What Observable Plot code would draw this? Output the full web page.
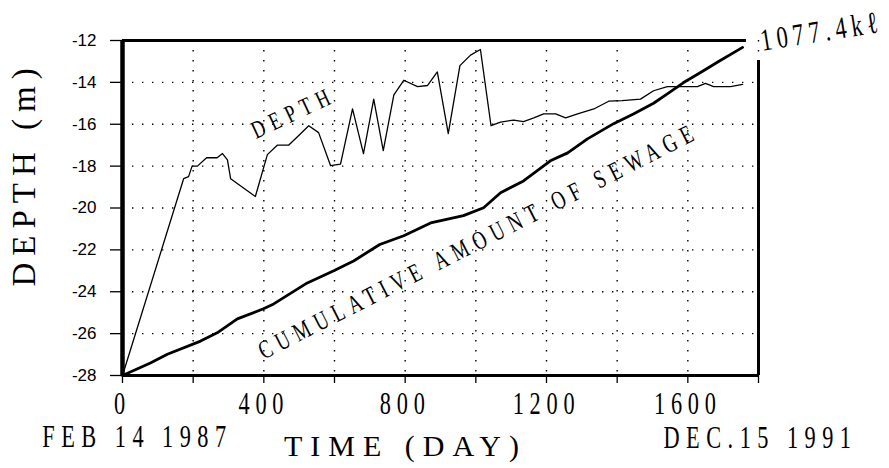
<!DOCTYPE html>
<html>
<head>
<meta charset="utf-8">
<script src="https://cdn.jsdelivr.net/npm/d3@7"></script>
<script src="https://cdn.jsdelivr.net/npm/@observablehq/plot@0.6"></script>
<style>
  html, body { margin: 0; padding: 0; background: #fff; }
  #chart { width: 889px; height: 468px; }
</style>
</head>
<body>
<div id="chart"></div>
<script>
// ---- Data ----
const depthDay = [0, 173, 187, 197, 212, 238, 268, 283, 297, 306, 376, 410, 438, 470, 504, 527, 555, 589, 617, 651, 682, 711, 738, 768, 796, 835, 863, 891, 922, 955, 985, 1013, 1043, 1070, 1107, 1135, 1164, 1192, 1226, 1254, 1288, 1334, 1376, 1414, 1466, 1503, 1542, 1588, 1627, 1650, 1673, 1721, 1755];
const depthM = [-28, -18.6, -18.5, -18.0, -18.0, -17.6, -17.6, -17.4, -17.7, -18.6, -19.45, -17.45, -17.0, -17.0, -16.45, -16.07, -16.4, -17.98, -17.9, -15.27, -17.4, -14.8, -17.26, -14.6, -13.9, -14.2, -14.15, -13.5, -16.45, -13.2, -12.7, -12.43, -16.07, -15.9, -15.8, -15.87, -15.7, -15.5, -15.5, -15.7, -15.5, -15.27, -14.9, -14.87, -14.8, -14.4, -14.2, -14.2, -14.2, -14.05, -14.2, -14.2, -14.1];

const sewageDay = [0, 79, 127, 221, 268, 325, 399, 428, 523, 598, 654, 728, 796, 872, 965, 1022, 1070, 1135, 1211, 1260, 1316, 1390, 1446, 1503, 1542, 1588, 1636, 1687, 1755];
const sewageKl = [0, 41, 70, 113, 140, 186, 219, 235, 304, 344, 376, 430, 459, 501, 525, 551, 600, 639, 705, 731, 777, 827, 859, 894, 925, 962, 995, 1031, 1077.4];

const xTicks = [0, 200, 400, 600, 800, 1000, 1200, 1400, 1600, 1800];
const xTickLabels = [0, 400, 800, 1200, 1600];
const xGridTicks = [200, 400, 600, 800, 1000, 1200, 1400, 1600, 1800];
const yTicks = [-12, -14, -16, -18, -20, -22, -24, -26, -28];
const yGridTicks = [-14, -16, -18, -20, -22, -24, -26];

const sewageTotalLabel = "1077.4kℓ";
const depthLineLabel = "DEPTH";
const sewageLineLabel = "CUMULATIVE AMOUNT OF SEWAGE";
const startDateLabel = "FEB 14 1987";
const endDateLabel = "DEC.15 1991";
const xTitle = "TIME (DAY)";
const yTitle = "DEPTH (m)";

// sewage (kℓ) is drawn on the depth axis: 0–1100 kℓ spans -28 to -12 m
const depthMin = -28, depthMax = -12, sewageSpan = 1100;
const sewageToDepth = kl => depthMin + kl * (depthMax - depthMin) / sewageSpan;

const depthData = depthDay.map((d, i) => ({day: d, depth: depthM[i]}));
const sewageData = sewageDay.map((d, i) => ({day: d, kl: sewageKl[i], y: sewageToDepth(sewageKl[i])}));
const lastSewage = sewageData[sewageData.length - 1];

const serif = "'Liberation Serif', 'DejaVu Serif', serif";
const sans = "'Liberation Sans', Arial, sans-serif";

const chart = Plot.plot({
  width: 889,
  height: 468,
  marginLeft: 122,
  marginRight: 131,
  marginTop: 40,
  marginBottom: 93,
  x: {domain: [0, 1800]},
  y: {domain: [depthMin, depthMax]},
  style: {background: "white", color: "black", fontFamily: serif, overflow: "visible"},
  marks: [
    Plot.gridX({ticks: xGridTicks, stroke: "black", strokeOpacity: 1, strokeWidth: 1.4, strokeDasharray: "1.4,8.6"}),
    Plot.gridY({ticks: yGridTicks, stroke: "black", strokeOpacity: 1, strokeWidth: 1.4, strokeDasharray: "1.4,8.6"}),
    Plot.axisY({ticks: yTicks, tickSize: 12, tickPadding: 14, fontSize: 17, fontFamily: sans,
                tickFormat: d => String(d), label: null, strokeWidth: 1.3}),
    Plot.axisX({ticks: xTicks, tickSize: 8, tickPadding: 8, fontSize: 31, fontFamily: serif,
                tickFormat: d => xTickLabels.includes(d) ? String(d) : "", label: null, strokeWidth: 1.3}),
    // frame
    Plot.ruleY([depthMin], {x1: 0, x2: 1800, strokeWidth: 3}),
    Plot.ruleY([depthMax], {x1: 0, x2: lastSewage.day + 11, strokeWidth: 3}),
    Plot.ruleX([1800], {y1: depthMin, y2: -12.95, strokeWidth: 3}),
    Plot.ruleX([0], {y1: depthMin, y2: depthMax, strokeWidth: 4.5}),
    // data lines
    Plot.line(depthData, {x: "day", y: "depth", stroke: "black", strokeWidth: 1.3}),
    Plot.line(sewageData, {x: "day", y: "y", stroke: "black", strokeWidth: 2.8}),
    // annotations
    Plot.text([depthLineLabel], {x: 484, y: -15.44, text: d => d, rotate: -25, fontSize: 25, fontFamily: serif, textAnchor: "middle"}),
    Plot.text([sewageLineLabel], {x: 1008, y: -21.57, text: d => d, rotate: -27, fontSize: 26, fontFamily: serif, textAnchor: "middle"}),
    Plot.text([lastSewage], {x: "day", y: "y", text: () => sewageTotalLabel, dx: 79, dy: -16, rotate: -9, fontSize: 31, fontFamily: serif, textAnchor: "middle"}),
    Plot.text([startDateLabel], {frameAnchor: "bottom-left", text: d => d, dx: 15, dy: 71, fontSize: 31, fontFamily: serif, textAnchor: "middle"}),
    Plot.text([endDateLabel], {frameAnchor: "bottom-right", text: d => d, dx: 2, dy: 72, fontSize: 31, fontFamily: serif, textAnchor: "middle"}),
    Plot.text([xTitle], {frameAnchor: "bottom", text: d => d, dx: -35, dy: 80, fontSize: 30, fontFamily: serif, textAnchor: "middle"}),
    Plot.text([yTitle], {frameAnchor: "left", text: d => d, dx: -98, dy: -34, rotate: -90, fontSize: 33, fontFamily: serif, textAnchor: "middle"})
  ]
});

// condensed serif lettering, as in the original typeset figure
const textStyles = new Map([
  [depthLineLabel, {scale: 0.72, spacing: 9}],
  [sewageLineLabel, {scale: 0.72, spacing: 9}],
  [sewageTotalLabel, {scale: 0.72, spacing: 7}],
  [startDateLabel, {scale: 0.72, spacing: 9}],
  [endDateLabel, {scale: 0.72, spacing: 9}],
  [xTitle, {scale: 1, spacing: 8}],
  [yTitle, {scale: 1, spacing: 7}]
]);
const tickStyle = {scale: 0.72, spacing: 8};
const svg = d3.select(chart);
function condense(node, s) {
  const t = d3.select(node);
  t.style("letter-spacing", s.spacing + "px");
  if (s.scale !== 1) {
    const tr = t.attr("transform") || "";
    t.attr("transform", tr + ` scale(${s.scale},1)`);
  }
}
svg.selectAll('g[aria-label="x-axis tick label"] text').each(function() { condense(this, tickStyle); });
svg.selectAll("text").each(function() {
  if (this.closest('g[aria-label$="axis tick label"]')) return;
  const s = textStyles.get(this.textContent);
  if (s) condense(this, s);
});

document.getElementById("chart").appendChild(chart);
</script>
</body>
</html>
